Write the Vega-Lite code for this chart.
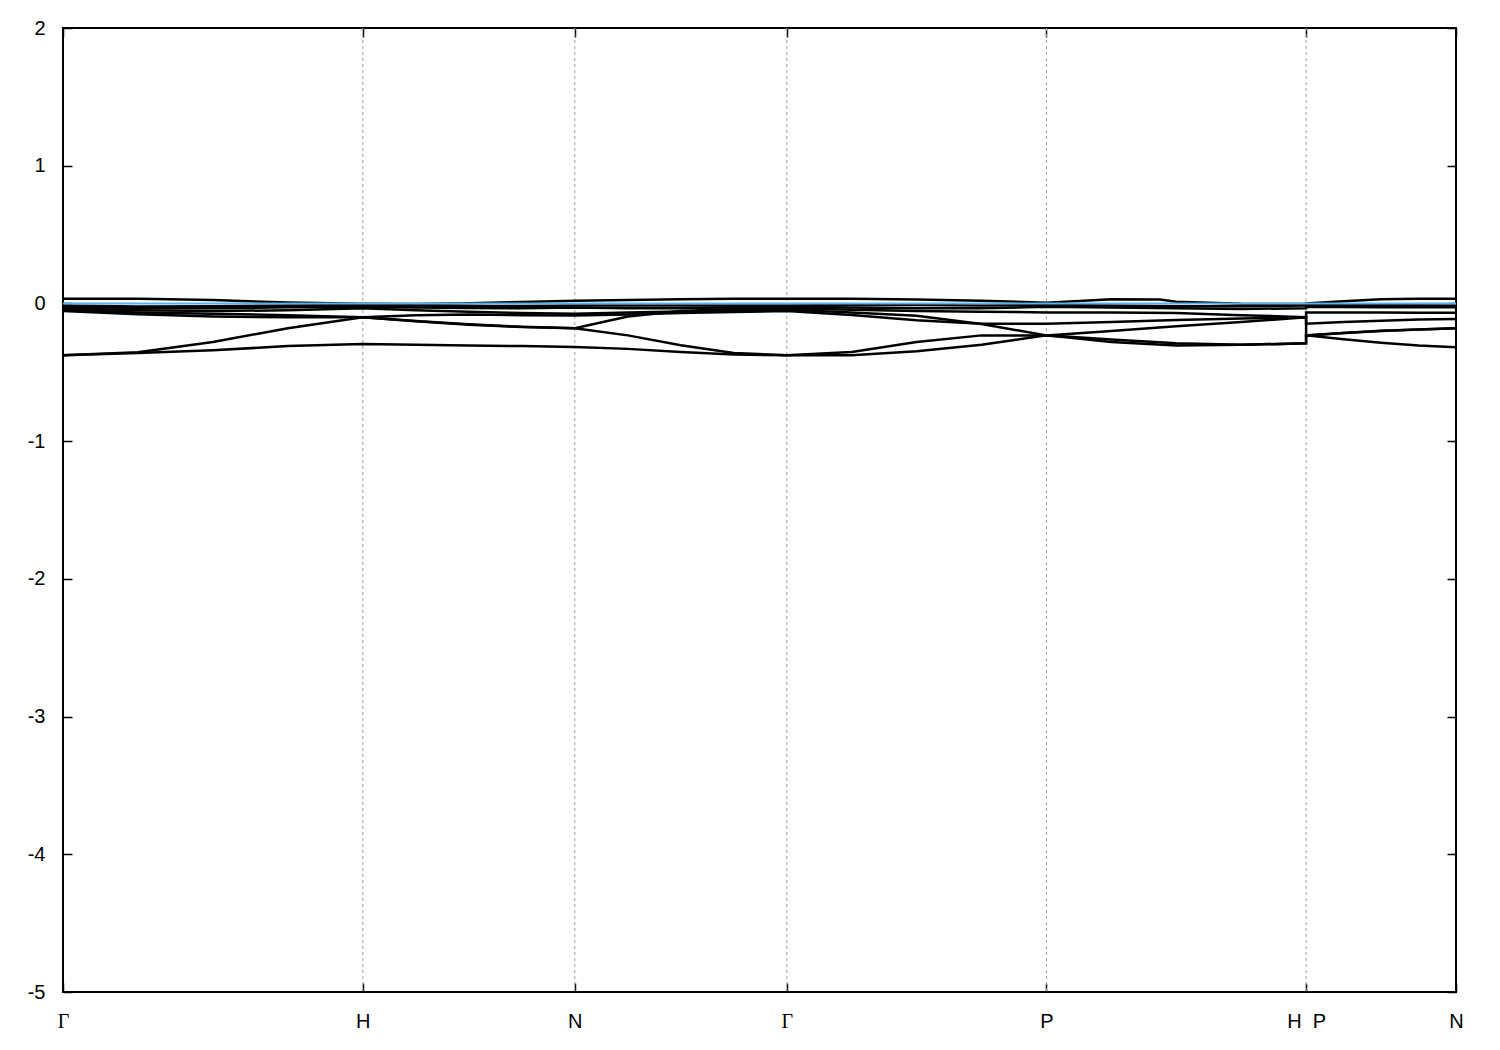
{
"$schema": "https://vega.github.io/schema/vega-lite/v6.json",
"autosize": "none",
"width": 1393,
"height": 964,
"padding": {"left": 63, "top": 28, "right": 44, "bottom": 58},
"background": "white",
"config": {
  "view": {"stroke": "black", "strokeWidth": 2},
  "axis": {"labelFont": "Liberation Sans", "labelFontSize": 20, "labelColor": "black", "tickColor": "black", "tickWidth": 1.5, "domain": false, "grid": false, "title": null, "labelFlush": false, "labelOverlap": false, "labelBound": false}
},
"datasets": {
"sym": [{"k": 1}, {"k": 1.7071}, {"k": 2.4142}, {"k": 3.2802}, {"k": 4.1463}],
"fermi": [{"k": 0, "e": 0}, {"k": 4.6463, "e": 0}],
"bands": [
{"b":1,"o":0,"k":0,"e":-0.377},{"b":1,"o":1,"k":0.25,"e":-0.36},{"b":1,"o":2,"k":0.5,"e":-0.34},{"b":1,"o":3,"k":0.75,"e":-0.31},{"b":1,"o":4,"k":1,"e":-0.295},{"b":1,"o":5,"k":1.1768,"e":-0.3},{"b":1,"o":6,"k":1.3536,"e":-0.305},{"b":1,"o":7,"k":1.5303,"e":-0.31},{"b":1,"o":8,"k":1.7071,"e":-0.316},{"b":1,"o":9,"k":1.8839,"e":-0.33},{"b":1,"o":10,"k":2.0607,"e":-0.353},{"b":1,"o":11,"k":2.2374,"e":-0.37},{"b":1,"o":12,"k":2.4142,"e":-0.377},{"b":1,"o":13,"k":2.6307,"e":-0.377},{"b":1,"o":14,"k":2.8472,"e":-0.348},{"b":1,"o":15,"k":3.0637,"e":-0.3},{"b":1,"o":16,"k":3.2802,"e":-0.232},{"b":1,"o":17,"k":3.4967,"e":-0.262},{"b":1,"o":18,"k":3.7132,"e":-0.29},{"b":1,"o":19,"k":3.9298,"e":-0.3},{"b":1,"o":20,"k":4.1463,"e":-0.29},{"b":1,"o":21,"k":4.1463,"e":-0.232},{"b":1,"o":22,"k":4.2713,"e":-0.26},{"b":1,"o":23,"k":4.3963,"e":-0.285},{"b":1,"o":24,"k":4.5213,"e":-0.305},{"b":1,"o":25,"k":4.6463,"e":-0.318},
{"b":2,"o":0,"k":0,"e":-0.377},{"b":2,"o":1,"k":0.25,"e":-0.355},{"b":2,"o":2,"k":0.5,"e":-0.28},{"b":2,"o":3,"k":0.75,"e":-0.18},{"b":2,"o":4,"k":1,"e":-0.1},{"b":2,"o":5,"k":1.1768,"e":-0.13},{"b":2,"o":6,"k":1.3536,"e":-0.155},{"b":2,"o":7,"k":1.5303,"e":-0.172},{"b":2,"o":8,"k":1.7071,"e":-0.18},{"b":2,"o":9,"k":1.8839,"e":-0.232},{"b":2,"o":10,"k":2.0607,"e":-0.304},{"b":2,"o":11,"k":2.2374,"e":-0.36},{"b":2,"o":12,"k":2.4142,"e":-0.377},{"b":2,"o":13,"k":2.6307,"e":-0.353},{"b":2,"o":14,"k":2.8472,"e":-0.28},{"b":2,"o":15,"k":3.0637,"e":-0.232},{"b":2,"o":16,"k":3.2802,"e":-0.232},{"b":2,"o":17,"k":3.4967,"e":-0.28},{"b":2,"o":18,"k":3.7132,"e":-0.305},{"b":2,"o":19,"k":3.9298,"e":-0.3},{"b":2,"o":20,"k":4.1463,"e":-0.29},{"b":2,"o":21,"k":4.1463,"e":-0.232},{"b":2,"o":22,"k":4.2713,"e":-0.215},{"b":2,"o":23,"k":4.3963,"e":-0.2},{"b":2,"o":24,"k":4.5213,"e":-0.19},{"b":2,"o":25,"k":4.6463,"e":-0.18},
{"b":3,"o":0,"k":0,"e":-0.055},{"b":3,"o":1,"k":0.25,"e":-0.078},{"b":3,"o":2,"k":0.5,"e":-0.095},{"b":3,"o":3,"k":0.75,"e":-0.1},{"b":3,"o":4,"k":1,"e":-0.1},{"b":3,"o":5,"k":1.1768,"e":-0.128},{"b":3,"o":6,"k":1.3536,"e":-0.152},{"b":3,"o":7,"k":1.5303,"e":-0.17},{"b":3,"o":8,"k":1.7071,"e":-0.18},{"b":3,"o":9,"k":1.8839,"e":-0.095},{"b":3,"o":10,"k":2.0607,"e":-0.055},{"b":3,"o":11,"k":2.2374,"e":-0.04},{"b":3,"o":12,"k":2.4142,"e":-0.035},{"b":3,"o":13,"k":2.6307,"e":-0.045},{"b":3,"o":14,"k":2.8472,"e":-0.055},{"b":3,"o":15,"k":3.0637,"e":-0.06},{"b":3,"o":16,"k":3.2802,"e":-0.065},{"b":3,"o":17,"k":3.4967,"e":-0.066},{"b":3,"o":18,"k":3.7132,"e":-0.07},{"b":3,"o":19,"k":3.9298,"e":-0.085},{"b":3,"o":20,"k":4.1463,"e":-0.1},{"b":3,"o":21,"k":4.1463,"e":-0.065},{"b":3,"o":22,"k":4.2713,"e":-0.065},{"b":3,"o":23,"k":4.3963,"e":-0.066},{"b":3,"o":24,"k":4.5213,"e":-0.067},{"b":3,"o":25,"k":4.6463,"e":-0.068},
{"b":4,"o":0,"k":0,"e":-0.045},{"b":4,"o":1,"k":0.25,"e":-0.066},{"b":4,"o":2,"k":0.5,"e":-0.075},{"b":4,"o":3,"k":0.75,"e":-0.085},{"b":4,"o":4,"k":1,"e":-0.1},{"b":4,"o":5,"k":1.1768,"e":-0.085},{"b":4,"o":6,"k":1.3536,"e":-0.08},{"b":4,"o":7,"k":1.5303,"e":-0.085},{"b":4,"o":8,"k":1.7071,"e":-0.088},{"b":4,"o":9,"k":1.8839,"e":-0.08},{"b":4,"o":10,"k":2.0607,"e":-0.07},{"b":4,"o":11,"k":2.2374,"e":-0.062},{"b":4,"o":12,"k":2.4142,"e":-0.055},{"b":4,"o":13,"k":2.6307,"e":-0.084},{"b":4,"o":14,"k":2.8472,"e":-0.123},{"b":4,"o":15,"k":3.0637,"e":-0.147},{"b":4,"o":16,"k":3.2802,"e":-0.147},{"b":4,"o":17,"k":3.4967,"e":-0.135},{"b":4,"o":18,"k":3.7132,"e":-0.12},{"b":4,"o":19,"k":3.9298,"e":-0.11},{"b":4,"o":20,"k":4.1463,"e":-0.1},{"b":4,"o":21,"k":4.1463,"e":-0.147},{"b":4,"o":22,"k":4.2713,"e":-0.135},{"b":4,"o":23,"k":4.3963,"e":-0.125},{"b":4,"o":24,"k":4.5213,"e":-0.117},{"b":4,"o":25,"k":4.6463,"e":-0.113},
{"b":5,"o":0,"k":0,"e":-0.035},{"b":5,"o":1,"k":0.25,"e":-0.05},{"b":5,"o":2,"k":0.5,"e":-0.055},{"b":5,"o":3,"k":0.75,"e":-0.05},{"b":5,"o":4,"k":1,"e":-0.035},{"b":5,"o":5,"k":1.1768,"e":-0.05},{"b":5,"o":6,"k":1.3536,"e":-0.06},{"b":5,"o":7,"k":1.5303,"e":-0.07},{"b":5,"o":8,"k":1.7071,"e":-0.075},{"b":5,"o":9,"k":1.8839,"e":-0.065},{"b":5,"o":10,"k":2.0607,"e":-0.058},{"b":5,"o":11,"k":2.2374,"e":-0.05},{"b":5,"o":12,"k":2.4142,"e":-0.045},{"b":5,"o":13,"k":2.6307,"e":-0.065},{"b":5,"o":14,"k":2.8472,"e":-0.09},{"b":5,"o":15,"k":3.0637,"e":-0.15},{"b":5,"o":16,"k":3.2802,"e":-0.232},{"b":5,"o":17,"k":3.4967,"e":-0.2},{"b":5,"o":18,"k":3.7132,"e":-0.165},{"b":5,"o":19,"k":3.9298,"e":-0.135},{"b":5,"o":20,"k":4.1463,"e":-0.1},{"b":5,"o":21,"k":4.1463,"e":-0.232},{"b":5,"o":22,"k":4.2713,"e":-0.214},{"b":5,"o":23,"k":4.3963,"e":-0.199},{"b":5,"o":24,"k":4.5213,"e":-0.189},{"b":5,"o":25,"k":4.6463,"e":-0.18},
{"b":6,"o":0,"k":0,"e":-0.025},{"b":6,"o":1,"k":0.25,"e":-0.034},{"b":6,"o":2,"k":0.5,"e":-0.035},{"b":6,"o":3,"k":0.75,"e":-0.028},{"b":6,"o":4,"k":1,"e":-0.025},{"b":6,"o":5,"k":1.1768,"e":-0.03},{"b":6,"o":6,"k":1.3536,"e":-0.033},{"b":6,"o":7,"k":1.5303,"e":-0.035},{"b":6,"o":8,"k":1.7071,"e":-0.03},{"b":6,"o":9,"k":1.8839,"e":-0.035},{"b":6,"o":10,"k":2.0607,"e":-0.035},{"b":6,"o":11,"k":2.2374,"e":-0.028},{"b":6,"o":12,"k":2.4142,"e":-0.025},{"b":6,"o":13,"k":2.6307,"e":-0.03},{"b":6,"o":14,"k":2.8472,"e":-0.035},{"b":6,"o":15,"k":3.0637,"e":-0.035},{"b":6,"o":16,"k":3.2802,"e":-0.025},{"b":6,"o":17,"k":3.4967,"e":-0.03},{"b":6,"o":18,"k":3.7132,"e":-0.035},{"b":6,"o":19,"k":3.9298,"e":-0.04},{"b":6,"o":20,"k":4.1463,"e":-0.035},{"b":6,"o":21,"k":4.1463,"e":-0.025},{"b":6,"o":22,"k":4.2713,"e":-0.026},{"b":6,"o":23,"k":4.3963,"e":-0.027},{"b":6,"o":24,"k":4.5213,"e":-0.028},{"b":6,"o":25,"k":4.6463,"e":-0.028},
{"b":7,"o":0,"k":0,"e":-0.015},{"b":7,"o":1,"k":0.25,"e":-0.022},{"b":7,"o":2,"k":0.5,"e":-0.02},{"b":7,"o":3,"k":0.75,"e":-0.015},{"b":7,"o":4,"k":1,"e":-0.012},{"b":7,"o":5,"k":1.1768,"e":-0.015},{"b":7,"o":6,"k":1.3536,"e":-0.018},{"b":7,"o":7,"k":1.5303,"e":-0.018},{"b":7,"o":8,"k":1.7071,"e":-0.015},{"b":7,"o":9,"k":1.8839,"e":-0.015},{"b":7,"o":10,"k":2.0607,"e":-0.015},{"b":7,"o":11,"k":2.2374,"e":-0.015},{"b":7,"o":12,"k":2.4142,"e":-0.015},{"b":7,"o":13,"k":2.6307,"e":-0.012},{"b":7,"o":14,"k":2.8472,"e":-0.012},{"b":7,"o":15,"k":3.0637,"e":-0.015},{"b":7,"o":16,"k":3.2802,"e":-0.012},{"b":7,"o":17,"k":3.4967,"e":-0.015},{"b":7,"o":18,"k":3.7132,"e":-0.02},{"b":7,"o":19,"k":3.9298,"e":-0.02},{"b":7,"o":20,"k":4.1463,"e":-0.015},{"b":7,"o":21,"k":4.1463,"e":-0.012},{"b":7,"o":22,"k":4.2713,"e":-0.012},{"b":7,"o":23,"k":4.3963,"e":-0.013},{"b":7,"o":24,"k":4.5213,"e":-0.014},{"b":7,"o":25,"k":4.6463,"e":-0.015},
{"b":8,"o":0,"k":0,"e":0.034},{"b":8,"o":1,"k":0.25,"e":0.034},{"b":8,"o":2,"k":0.5,"e":0.024},{"b":8,"o":3,"k":0.75,"e":0.006},{"b":8,"o":4,"k":1,"e":-0.002},{"b":8,"o":5,"k":1.1768,"e":-0.004},{"b":8,"o":6,"k":1.3536,"e":0.002},{"b":8,"o":7,"k":1.5303,"e":0.01},{"b":8,"o":8,"k":1.7071,"e":0.02},{"b":8,"o":9,"k":1.8839,"e":0.025},{"b":8,"o":10,"k":2.0607,"e":0.03},{"b":8,"o":11,"k":2.2374,"e":0.034},{"b":8,"o":12,"k":2.4142,"e":0.034},{"b":8,"o":13,"k":2.6307,"e":0.034},{"b":8,"o":14,"k":2.8472,"e":0.028},{"b":8,"o":15,"k":3.0637,"e":0.02},{"b":8,"o":16,"k":3.2802,"e":0.005},{"b":8,"o":17,"k":3.4967,"e":0.03},{"b":8,"o":18,"k":3.659,"e":0.028},{"b":8,"o":19,"k":3.7132,"e":0.012},{"b":8,"o":20,"k":3.9298,"e":-0.003},{"b":8,"o":21,"k":4.1463,"e":-0.004},{"b":8,"o":22,"k":4.1463,"e":0.0},{"b":8,"o":23,"k":4.2713,"e":0.015},{"b":8,"o":24,"k":4.3963,"e":0.03},{"b":8,"o":25,"k":4.5213,"e":0.034},{"b":8,"o":26,"k":4.6463,"e":0.034}
]
},
"layer": [
{
  "data": {"name": "sym"},
  "mark": {"type": "rule", "color": "#a0a0a0", "strokeDash": [3, 3], "strokeWidth": 1},
  "encoding": {
    "x": {"field": "k", "type": "quantitative", "scale": {"domain": [0, 4.6463], "nice": false, "zero": false}, "axis": null}
  }
},
{
  "data": {"name": "bands"},
  "mark": {"type": "line", "color": "black", "strokeWidth": 2.5},
  "encoding": {
    "x": {"field": "k", "type": "quantitative", "scale": {"domain": [0, 4.6463], "nice": false, "zero": false},
      "axis": {"orient": "bottom", "values": [0, 1, 1.7071, 2.4142, 3.2802, 4.1463, 4.6463], "tickSize": -9, "labelPadding": 28,
        "labelExpr": "datum.value < 0.5 ? 'Γ' : datum.value < 1.5 ? 'H' : datum.value < 2 ? 'N' : datum.value < 3 ? 'Γ' : datum.value < 3.5 ? 'P' : datum.value < 4.5 ? 'H\u00a0\u00a0P' : 'N'",
        "labelFont": {"expr": "datum.value < 0.5 || (datum.value > 2 && datum.value < 3) ? 'Liberation Serif' : 'Liberation Sans'"}}},
    "y": {"field": "e", "type": "quantitative", "scale": {"domain": [-5, 2], "nice": false, "zero": false},
      "axis": {"orient": "left", "values": [-5, -4, -3, -2, -1, 0, 1, 2], "labelExpr": "toString(datum.value)", "tickSize": -9, "labelPadding": 27}},
    "detail": {"field": "b", "type": "nominal"},
    "order": {"field": "o", "type": "quantitative"}
  }
},
{
  "data": {"name": "fermi"},
  "mark": {"type": "line", "color": "#56b4e9", "strokeWidth": 2},
  "encoding": {
    "x": {"field": "k", "type": "quantitative", "scale": {"domain": [0, 4.6463], "nice": false, "zero": false},
      "axis": {"orient": "top", "values": [0, 1, 1.7071, 2.4142, 3.2802, 4.1463, 4.6463], "tickSize": -9, "labels": false}},
    "y": {"field": "e", "type": "quantitative", "scale": {"domain": [-5, 2], "nice": false, "zero": false},
      "axis": {"orient": "right", "values": [-5, -4, -3, -2, -1, 0, 1, 2], "tickSize": -9, "labels": false}}
  }
}
],
"resolve": {"axis": {"x": "independent", "y": "independent"}}
}
